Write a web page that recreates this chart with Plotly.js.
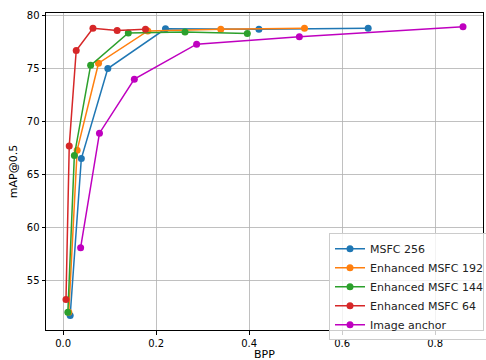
<!DOCTYPE html>
<html>
<head>
<meta charset="utf-8">
<script src="https://cdn.plot.ly/plotly-3.0.1.min.js"></script>
<style>html,body{margin:0;padding:0;overflow:hidden;background:#fff;}</style>
</head>
<body>
<div id="chart" style="width:489px;height:360px;"></div>
<script>
const seriesNames = ["MSFC 256", "Enhanced MSFC 192", "Enhanced MSFC 144", "Enhanced MSFC 64", "Image anchor"];
const seriesColors = ["#1f77b4", "#ff7f0e", "#2ca02c", "#d62728", "#bf00bf"];

const msfc256Bpp = [0.015, 0.039, 0.096, 0.220, 0.421, 0.656];
const msfc256Map = [51.7, 66.5, 75.0, 78.75, 78.7, 78.8];

const msfc192Bpp = [0.012, 0.030, 0.076, 0.182, 0.339, 0.519];
const msfc192Map = [52.0, 67.3, 75.5, 78.55, 78.7, 78.8];

const msfc144Bpp = [0.010, 0.024, 0.059, 0.140, 0.262, 0.396];
const msfc144Map = [52.0, 66.8, 75.3, 78.35, 78.45, 78.3];

const msfc64Bpp = [0.006, 0.013, 0.028, 0.064, 0.116, 0.177];
const msfc64Map = [53.2, 67.7, 76.7, 78.8, 78.6, 78.7];

const anchorBpp = [0.0375, 0.078, 0.153, 0.287, 0.508, 0.860];
const anchorMap = [58.1, 68.9, 74.0, 77.3, 78.0, 78.95];

const xTicks = [0.0, 0.2, 0.4, 0.6, 0.8];
const yTicks = [55, 60, 65, 70, 75, 80];

const xs = [msfc256Bpp, msfc192Bpp, msfc144Bpp, msfc64Bpp, anchorBpp];
const ys = [msfc256Map, msfc192Map, msfc144Map, msfc64Map, anchorMap];

const traces = seriesNames.map((n, i) => ({
  type: "scatter", mode: "lines+markers", name: n,
  x: xs[i], y: ys[i],
  line: {color: seriesColors[i], width: 1.5},
  marker: {color: seriesColors[i], size: 7}
}));

const fontFam = "DejaVu Sans, sans-serif";
const layout = {
  width: 489, height: 360,
  margin: {l: 46, r: 0, t: 13, b: 30},
  paper_bgcolor: "#fff", plot_bgcolor: "#fff",
  font: {family: fontFam, size: 10, color: "#000"},
  showlegend: true,
  legend: {
    x: 0.648, y: 0.305, xanchor: "left", yanchor: "top",
    bgcolor: "rgba(255,255,255,0.8)", bordercolor: "#cccccc", borderwidth: 1,
    font: {family: fontFam, size: 11, color: "#222"}
  },
  annotations: [{
    text: "BPP", xref: "paper", yref: "paper", x: 0.5, y: 0,
    xanchor: "center", yanchor: "top", yshift: -16, showarrow: false,
    font: {family: fontFam, size: 11, color: "#000"}
  }],
  xaxis: {
    range: [-0.037, 0.903], tickvals: xTicks, ticktext: xTicks.map(v => v.toFixed(1)),
    showgrid: true, gridcolor: "#b0b0b0", gridwidth: 0.8, zeroline: false,
    showline: true, linecolor: "#000", linewidth: 1, mirror: true,
    ticks: "outside", ticklen: 3.5, tickcolor: "#000"
  },
  yaxis: {
    range: [50.33, 80.24], tickvals: yTicks, ticktext: yTicks.map(String),
    showgrid: true, gridcolor: "#b0b0b0", gridwidth: 0.8, zeroline: false,
    showline: true, linecolor: "#000", linewidth: 1, mirror: true,
    ticks: "outside", ticklen: 3.5, tickcolor: "#000",
    title: {text: "mAP@0.5", font: {family: fontFam, size: 11}, standoff: 6}
  }
};
Plotly.newPlot("chart", traces, layout, {displayModeBar: false, staticPlot: true});
</script>
</body>
</html>
